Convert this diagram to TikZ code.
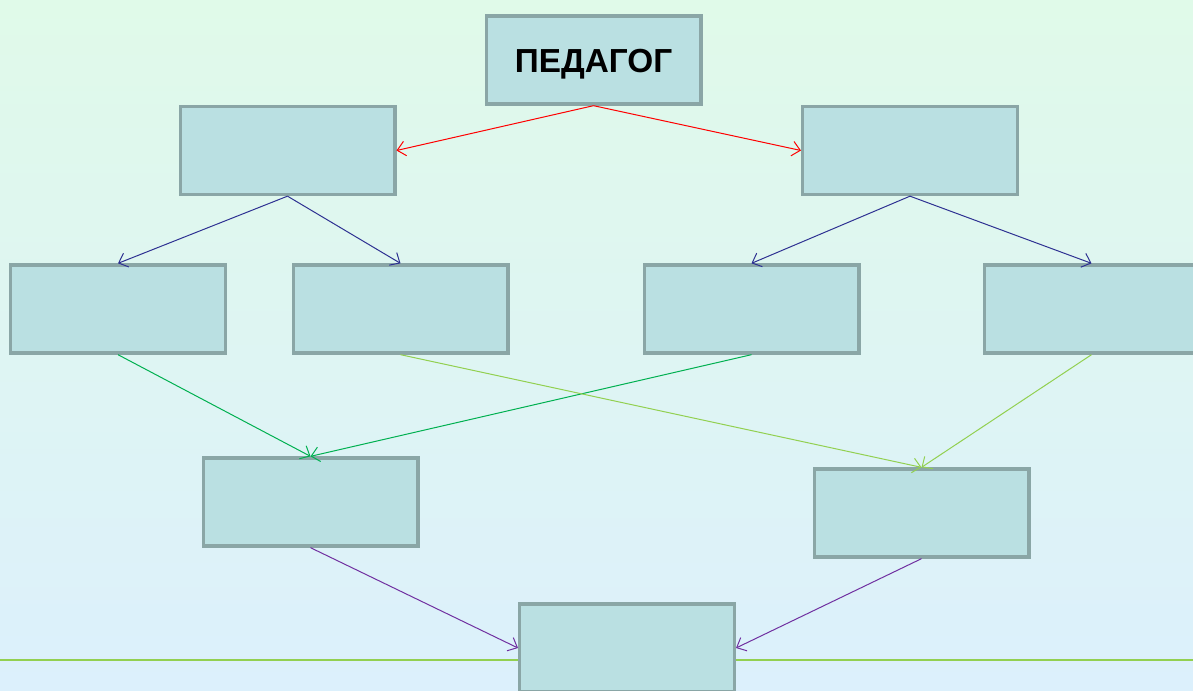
\documentclass[tikz,border=0pt]{standalone}
\usepackage{fontspec}
\setmainfont{Liberation Sans}
\usetikzlibrary{arrows.meta}
\definecolor{bgtop}{HTML}{E0FAE9}
\definecolor{bgbot}{HTML}{DCF0FC}
\definecolor{boxfill}{HTML}{BAE0E2}
\definecolor{boxline}{HTML}{8AA6A6}
\definecolor{cred}{HTML}{FF0000}
\definecolor{cblue}{HTML}{2E3192}
\definecolor{cgreen}{HTML}{00B050}
\definecolor{clime}{HTML}{92D050}
\definecolor{cpurple}{HTML}{7030A0}
\tikzset{
    box/.style = {draw=boxline, fill=boxfill, line width=2.5pt,
        minimum width=161pt, minimum height=66pt, inner sep=0pt},
    title/.style = {font=\bfseries\fontsize{25}{28}\selectfont},
    link/.style = {line width=0.75pt, -{Straight Barb[length=6pt,width=11pt]}}
}
\begin{document}
\begin{tikzpicture}[x=0.75pt, y=-0.75pt]
    \useasboundingbox (0,0) rectangle (1193,690);
    \clip (0,0) rectangle (1193,690);
    \shade[top color=bgtop, bottom color=bgbot] (0,0) rectangle (1193,690);
    \draw[clime, line width=1.5pt] (0,660) -- (1193,660);
    % boxes
    \node[box] (ped) at (593.5,60) {};
    \node[title] (pedtext) at (593.5,64) {ПЕДАГОГ};
    \node[box] (l1) at (287.5,150.5) {};
    \node[box] (r1) at (910,150.5) {};
    \node[box] (a) at (118,309) {};
    \node[box] (b) at (400.5,309) {};
    \node[box] (c) at (751.5,309) {};
    \node[box] (d) at (1091.5,309) {};
    \node[box] (e) at (310.5,502) {};
    \node[box] (f) at (921.5,513) {};
    \node[box] (g) at (627,648) {};
    % links
    \draw[link, cred] (ped.south) -- (l1.east);
    \draw[link, cred] (ped.south) -- (r1.west);
    \draw[link, cblue] (l1.south) -- (a.north);
    \draw[link, cblue] (l1.south) -- (b.north);
    \draw[link, cblue] (r1.south) -- (c.north);
    \draw[link, cblue] (r1.south) -- (d.north);
    \draw[link, cgreen] (a.south) -- (e.north);
    \draw[link, cgreen] (c.south) -- (e.north);
    \draw[link, clime] (b.south) -- (f.north);
    \draw[link, clime] (d.south) -- (f.north);
    \draw[link, cpurple] (e.south) -- (g.west);
    \draw[link, cpurple] (f.south) -- (g.east);
\end{tikzpicture}
\end{document}
